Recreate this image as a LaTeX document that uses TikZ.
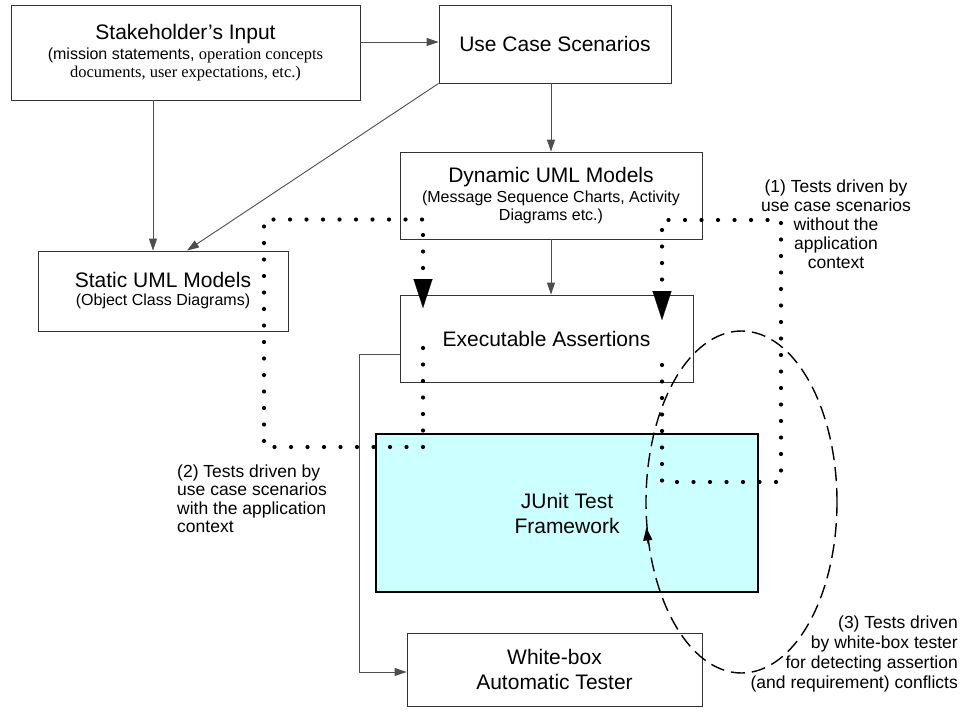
\documentclass[tikz,border=0pt]{standalone}
\usepackage{fontspec}
\setmainfont{Liberation Sans}
\newfontfamily\serifface{Liberation Serif}
\usetikzlibrary{arrows.meta,shapes.geometric}
\definecolor{junitfill}{HTML}{CCFFFF}
\definecolor{edgecol}{HTML}{333333}
\definecolor{wirecol}{HTML}{4D4D4D}
\begin{document}
\begin{tikzpicture}[x=1pt,y=-1pt,
  box/.style={draw=edgecol, line width=0.9pt, fill=white, inner sep=0pt, align=center,
              font=\fontsize{16}{18}\selectfont},
  ttl/.style={font=\fontsize{21}{25}\selectfont},
  arr/.style={draw=wirecol, line width=0.9pt, -{Triangle[length=12pt,width=8pt]}},
  dotline/.style={draw=black, line width=4.2pt, line cap=round, dash pattern=on 0pt off 16.5pt,
                  -{Triangle[length=29pt,width=19pt,line width=0.1pt]}},
  lbl/.style={inner sep=0pt, font=\fontsize{17.5}{19}\selectfont}
]
\fill[white] (0,0) rectangle (964,712);
\useasboundingbox (0,0) rectangle (964,712);

% boxes
\node[box, minimum width=349pt, minimum height=95pt] (sh) at (185.5,52.5)
  {{\fontsize{21}{25}\selectfont Stakeholder's Input}\\[2pt]
   (mission statements, {\serifface\fontsize{16.5}{18}\selectfont operation concepts}\\
   {\serifface\fontsize{16.5}{18}\selectfont documents, user expectations, etc.)}};
\node[box, ttl, minimum width=232pt, minimum height=78pt] (uc) at (555,44) {Use Case Scenarios};
\node[box, minimum width=302pt, minimum height=87pt] (dyn) at (551,195.5)
  {{\fontsize{21}{25}\selectfont Dynamic UML Models}\\[2pt]
   (Message Sequence Charts, Activity\\ Diagrams etc.)};
\node[box, minimum width=250pt, minimum height=80pt] (st) at (163,291)
  {{\fontsize{21}{25}\selectfont Static UML Models}\\ (Object Class Diagrams)};
\node[box, ttl, minimum width=293pt, minimum height=87pt] (ex) at (546.5,338.5) {Executable Assertions};
\node[box, ttl, draw=black, line width=1.6pt, fill=junitfill, minimum width=382pt, minimum height=158pt]
  (ju) at (567,513) {JUnit Test\\Framework};
\node[box, ttl, minimum width=295pt, minimum height=73pt] (wb) at (554.5,669.5) {White-box\\Automatic Tester};

% solid connectors
\coordinate (shx) at (153,0);
\draw[arr] ([yshift=10.5pt]sh.east) -- ([yshift=10.5pt]sh.east -| uc.west);
\draw[arr] (sh.south -| shx) -- (st.north -| shx);
\draw[arr] (uc.south west) -- ([xshift=24pt]st.north);
\draw[arr] (uc.south -| dyn.north) -- (dyn.north);
\draw[arr] (dyn.south) -- (dyn.south |- ex.north);
\coordinate (bend) at (359,354);
\draw[arr] (ex.west |- bend) -- (bend) |- ([yshift=-2.5pt]wb.west);

% dotted loops
\coordinate (l0) at (423,348);
\coordinate (l1) at (423,447);
\coordinate (l2) at (264,447);
\coordinate (l3) at (264,219.5);
\coordinate (l4) at (423,219.5);
\coordinate (l5) at (423,308);
\draw[dotline] (l0) -- (l1) -- (l2) -- (l3) -- (l4) -- (l5);
\coordinate (r0) at (662,365);
\coordinate (r1) at (662,482);
\coordinate (r2) at (781,482);
\coordinate (r3) at (781,220);
\coordinate (r4) at (662,220);
\coordinate (r5) at (662,320);
\draw[dotline] (r0) -- (r1) -- (r2) -- (r3) -- (r4) -- (r5);

% dashed ellipse
\node[draw=black, line width=1.4pt, dash pattern=on 14pt off 7pt, ellipse, inner sep=0pt,
      minimum width=191pt, minimum height=342pt] (loop3) at (741.5,502) {};
\draw[black, line width=1.4pt, -{Triangle[length=13pt,width=9pt]}] (loop3.204) -- (loop3.195);

% labels
\node[lbl, align=center, anchor=north] (t1) at (836,179.3)
  {(1) Tests driven by\\use case scenarios\\without the\\application\\context};
\node[lbl, align=left, anchor=north west, font=\fontsize{17.5}{18.5}\selectfont] (t2) at (177,464.3)
  {(2) Tests driven by\\use case scenarios\\with the application\\context};
\node[lbl, align=right, anchor=north east, font=\fontsize{17.5}{20}\selectfont] (t3) at (958,615.3)
  {(3) Tests driven\\by white-box tester\\for detecting assertion\\(and requirement) conflicts};
\end{tikzpicture}
\end{document}
